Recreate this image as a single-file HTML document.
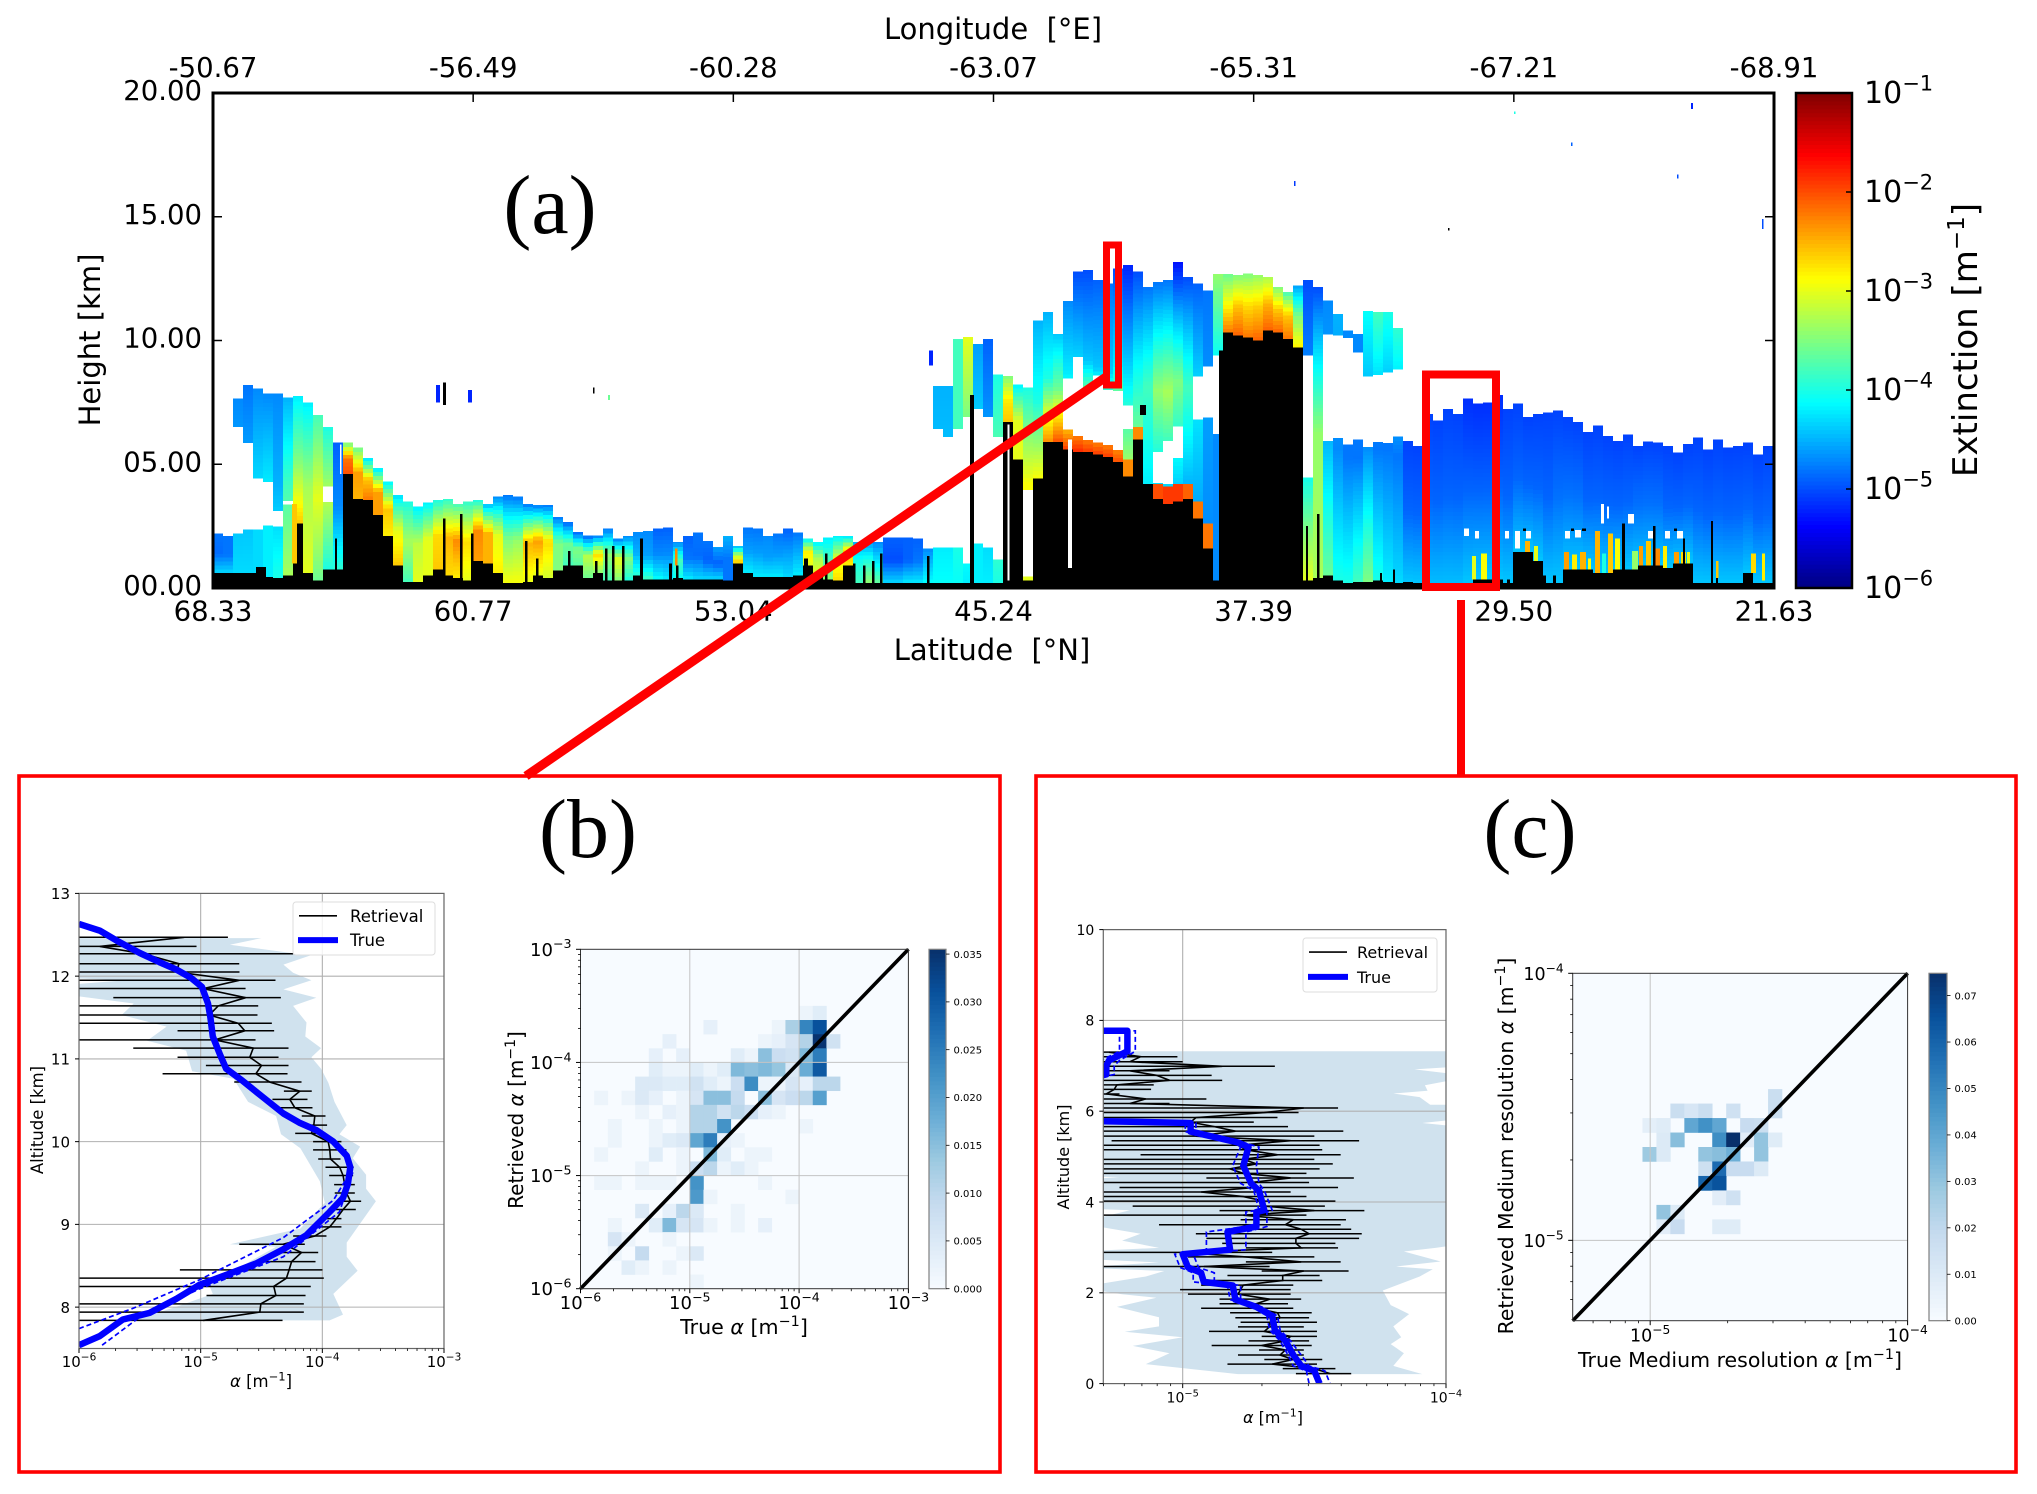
<!DOCTYPE html>
<html>
<head>
<meta charset="utf-8">
<title>Lidar extinction curtain and retrieval comparison</title>
<style>
html,body{margin:0;padding:0;background:#fff;}
svg{display:block;}
text{font-family:"DejaVu Sans","Liberation Sans",sans-serif;fill:#000;}
.serif{font-family:"Liberation Serif",serif;}
</style>
</head>
<body>
<svg id="figure" xmlns="http://www.w3.org/2000/svg" width="2037" height="1494" viewBox="0 0 2037 1494">
<defs>
<clipPath id="clip-a"><rect x="213" y="93" width="1561" height="495"/></clipPath>
<clipPath id="clip-b1"><rect x="79" y="893.4" width="365" height="455"/></clipPath>
<clipPath id="clip-c1"><rect x="1103.3" y="929.6" width="342.7" height="454"/></clipPath>
</defs>
<rect x="0" y="0" width="2037" height="1494" fill="#fff"/>

<g id="panel-a">
<g id="a-marks" clip-path="url(#clip-a)" shape-rendering="crispEdges"></g>
<g id="a-axes"></g>
<g id="a-colorbar"></g>
<text x="993" y="39" text-anchor="middle" font-size="29" xml:space="preserve">Longitude  [°E]</text>
<text x="992" y="660" text-anchor="middle" font-size="29" xml:space="preserve">Latitude  [°N]</text>
<text transform="translate(91 340) rotate(-90)" text-anchor="middle" font-size="29" x="0" y="9">Height [km]</text>
<text transform="translate(1965 340) rotate(-90)" text-anchor="middle" font-size="34" x="0" y="12">Extinction [m<tspan font-size="23" dy="-13">−1</tspan><tspan dy="13">]</tspan></text>
<text class="serif" x="550" y="233" text-anchor="middle" font-size="84">(a)</text>
</g>

<g id="panel-b">
<g id="b1-axes"></g>
<text x="261" y="1387" text-anchor="middle" font-size="16.5"><tspan font-style="italic">α</tspan> [m<tspan font-size="11.5" dy="-6.5">−1</tspan><tspan dy="6.5">]</tspan></text>
<text transform="translate(43 1120) rotate(-90)" text-anchor="middle" font-size="16.5">Altitude [km]</text>
<g id="b2-axes"></g>
<text x="744" y="1334" text-anchor="middle" font-size="20.6">True <tspan font-style="italic">α</tspan> [m<tspan font-size="14.4" dy="-8">−1</tspan><tspan dy="8">]</tspan></text>
<text transform="translate(523 1120) rotate(-90)" text-anchor="middle" font-size="20">Retrieved <tspan font-style="italic">α</tspan> [m<tspan font-size="14" dy="-8">−1</tspan><tspan dy="8">]</tspan></text>
</g>

<g id="panel-c">
<g id="c1-axes"></g>
<text x="1273" y="1423" text-anchor="middle" font-size="16"><tspan font-style="italic">α</tspan> [m<tspan font-size="11" dy="-6.5">−1</tspan><tspan dy="6.5">]</tspan></text>
<text transform="translate(1069 1157) rotate(-90)" text-anchor="middle" font-size="16">Altitude [km]</text>
<g id="c2-axes"></g>
<text x="1740" y="1367" text-anchor="middle" font-size="20.5">True Medium resolution <tspan font-style="italic">α</tspan> [m<tspan font-size="14.3" dy="-8">−1</tspan><tspan dy="8">]</tspan></text>
<text transform="translate(1513 1146) rotate(-90)" text-anchor="middle" font-size="20.4">Retrieved Medium resolution <tspan font-style="italic">α</tspan> [m<tspan font-size="14.2" dy="-8">−1</tspan><tspan dy="8">]</tspan></text>
</g>

<g id="annotations">
<rect x="19" y="776" width="981" height="696" fill="none" stroke="#f00" stroke-width="3.6"/>
<rect x="1036" y="776" width="980" height="696" fill="none" stroke="#f00" stroke-width="3.6"/>
<rect x="1106.5" y="245" width="12" height="140" fill="none" stroke="#f00" stroke-width="7"/>
<rect x="1426" y="374.5" width="70" height="212.5" fill="none" stroke="#f00" stroke-width="8"/>
<line x1="1106" y1="377" x2="526" y2="776" stroke="#f00" stroke-width="9"/>
<line x1="1461" y1="600" x2="1461" y2="776" stroke="#f00" stroke-width="8"/>
<text class="serif" x="588" y="857" text-anchor="middle" font-size="84">(b)</text>
<text class="serif" x="1530" y="857" text-anchor="middle" font-size="84">(c)</text>
</g>
</svg>

<script>
/* ---------- panel (a) tick labels ---------- */
const latitudeTicks = ["68.33","60.77","53.04","45.24","37.39","29.50","21.63"];
const longitudeTicks = ["-50.67","-56.49","-60.28","-63.07","-65.31","-67.21","-68.91"];
const heightTicks = [0,5,10,15,20];
const heightTickLabels = ["00.00","05.00","10.00","15.00","20.00"];
const extinctionExponents = [-6,-5,-4,-3,-2,-1];

/* ---------- panel (a) curtain, one value per along-track column ---------- */
const curtainTopKm = [
2.2,2.1,7.65,8.2,8.06,7.85,7.85,7.7,7.75,7.5,
7.0,6.5,5.87,5.87,5.67,5.26,4.85,4.3,3.76,3.5,
3.3,3.46,3.55,3.6,3.4,3.5,3.55,3.4,3.7,3.76,
3.7,3.4,3.35,3.35,2.87,2.67,2.26,2.12,2.12,2.4,
2.0,2.1,2.26,2.3,2.4,2.45,1.85,2.1,2.25,1.9,
1.65,2.1,1.7,2.45,2.4,2.1,2.2,2.4,2.25,2.0,
1.85,2.05,2.1,2.1,1.85,1.85,1.85,2.05,2.05,2.05,
2.0,1.6,8.16,8.16,10.06,10.15,9.85,10.06,8.63,8.56,
8.22,8.1,10.8,11.15,10.26,11.6,12.78,12.85,12.44,12.3,
12.9,13.05,12.78,12.16,12.37,12.44,13.18,12.57,12.3,12.03,
12.68,12.68,12.64,12.7,12.64,12.57,12.16,11.96,12.23,12.44,
12.16,11.62,11.08,10.4,10.26,11.2,11.15,11.15,10.5,5.94,
5.74,7.04,6.76,7.24,7.04,7.65,7.45,7.5,7.8,7.24,
7.45,6.9,7.03,7.1,7.17,6.9,6.7,6.3,6.56,6.15,
5.94,6.2,5.74,5.92,5.87,5.74,5.47,5.81,6.08,5.6,
6.0,5.67,5.74,5.87,5.4,5.74];
const curtainBlackKm = [
.6,.6,.6,.6,.6,.45,.4,.5,2.6,.6,
.3,.75,.75,4.6,3.6,3.55,2.94,2.1,.9,.25,
.25,.5,.75,.5,.4,.3,1.1,1.0,.6,.2,
.2,.25,.5,.4,.7,.9,.9,.4,.6,.3,
.3,.3,.5,.35,.35,.35,.4,.35,.35,.35,
.35,.3,1.0,.6,.45,.45,.45,.45,.5,.9,
.6,.35,.3,.9,.2,.2,.2,.2,.2,.2,
.2,.2,.2,.2,.2,.2,.2,.2,.2,6.7,
5.2,.3,4.42,5.9,5.9,5.6,5.5,5.5,5.4,5.3,
5.1,4.5,6.0,4.2,3.6,3.4,3.5,3.6,2.8,1.6,
.3,10.33,10.2,10.13,9.99,10.4,10.33,10.06,9.72,.3,
.4,.5,.3,.2,.25,.25,.3,.25,.2,.25,
.2,.2,.2,.2,.2,.2,.35,.35,.35,.2,
1.45,1.45,1.1,.2,.2,.75,.75,.75,.6,.6,
.75,.75,.9,.9,.9,.8,1.0,1.0,.2,.2,
.2,.2,.2,.6,.2,.2];
const curtainExtTop = [
-4.8,-4.8,-4.7,-4.8,-4.7,-4.7,-4.7,-4.5,-4.2,-4.2,
-3.8,-4.0,-4.9,-3.6,-3.6,-4.3,-4.3,-4.2,-4.3,-4.0,
-4.2,-4.2,-4.0,-3.9,-3.8,-3.9,-4.0,-4.5,-4.7,-4.8,
-4.8,-4.8,-4.8,-4.8,-4.8,-4.9,-4.9,-4.9,-4.8,-4.8,
-4.8,-4.7,-4.7,-4.7,-4.9,-4.9,-4.7,-4.9,-4.8,-4.8,
-4.6,-4.5,-4.5,-4.8,-4.8,-4.7,-4.8,-4.9,-4.8,-4.2,
-4.2,-4.2,-4.2,-4.3,-4.5,-4.6,-4.7,-4.9,-4.9,-4.9,
-4.9,-4.7,-4.5,-4.5,-3.8,-3.0,-4.6,-4.9,-4.0,-3.5,
-4.2,-4.0,-4.5,-4.5,-4.4,-4.7,-5.0,-5.0,-4.9,-4.8,
-5.0,-5.2,-5.0,-4.8,-4.8,-4.8,-5.3,-5.0,-4.9,-4.8,
-3.4,-3.6,-3.5,-3.5,-3.4,-3.3,-3.5,-3.8,-4.6,-5.0,
-5.0,-4.7,-4.5,-4.7,-4.7,-4.1,-3.8,-4.0,-3.9,-5.05,
-5.05,-5.05,-5.05,-5.05,-5.05,-5.15,-5.15,-5.15,-5.15,-5.05,
-5.05,-5.05,-5.05,-5.05,-5.05,-5.05,-5.05,-5.05,-5.05,-5.05,
-5.05,-5.05,-5.05,-5.05,-5.05,-5.05,-5.05,-5.05,-5.05,-5.05,
-5.05,-5.05,-5.05,-5.05,-5.05,-5.05];
const curtainExtMid = [
-4.85,-4.8,-4.5,-4.5,-4.3,-4.2,-4.5,-3.8,-3.5,-3.3,
-3.0,-3.2,-4.7,-2.2,-2.4,-2.6,-2.4,-2.6,-3.0,-3.3,
-3.2,-3.0,-2.7,-2.5,-2.3,-2.7,-2.3,-2.5,-3.0,-3.5,
-3.4,-2.5,-2.4,-2.7,-3.5,-3.6,-3.5,-3.2,-2.7,-3.4,
-3.0,-3.5,-4.5,-4.6,-4.7,-4.7,-3.8,-4.8,-4.85,-4.9,
-4.9,-4.8,-3.3,-4.6,-4.6,-4.6,-4.6,-4.6,-4.5,-2.8,
-3.3,-3.8,-3.0,-2.6,-4.0,-3.9,-4.2,-5.0,-5.0,-4.9,
-4.8,-4.4,-4.4,-4.4,-3.8,-3.8,-4.2,-4.5,-3.6,-2.8,
-3.0,-2.9,-4.0,-4.0,-3.6,-4.2,-4.3,-4.4,-4.4,-4.4,
-4.2,-4.3,-4.2,-3.8,-3.4,-3.3,-3.5,-3.8,-4.2,-4.6,
-4.7,-2.9,-2.6,-2.7,-2.6,-2.5,-2.6,-2.6,-3.5,-4.5,
-3.4,-4.5,-4.7,-4.8,-4.8,-4.7,-4.8,-4.8,-4.8,-4.88,
-4.88,-4.88,-4.88,-4.88,-4.88,-4.88,-4.88,-4.88,-4.88,-4.88,
-4.88,-4.88,-4.88,-4.88,-4.82,-4.82,-4.82,-4.88,-4.88,-4.88,
-4.88,-4.88,-4.82,-4.82,-4.82,-4.88,-4.88,-4.88,-4.88,-4.88,
-4.88,-4.88,-4.88,-4.88,-4.88,-4.88];
const curtainExtBottom = [
-4.3,-4.3,-4.3,-4.3,-4.3,-4.2,-4.0,-3.3,-2.6,-3.0,
-3.6,-4.0,-3.9,-2.0,-2.5,-2.2,-2.4,-2.8,-2.6,-3.8,
-3.0,-3.0,-2.6,-2.7,-2.8,-3.0,-2.4,-2.5,-2.8,-2.9,
-2.9,-3.0,-3.0,-3.1,-3.5,-3.8,-3.7,-3.6,-3.5,-3.8,
-3.5,-4.0,-3.9,-3.8,-4.1,-4.2,-4.1,-4.2,-4.3,-4.3,
-4.3,-4.8,-2.5,-4.2,-4.2,-4.2,-4.2,-4.3,-4.2,-3.0,
-3.0,-3.4,-2.7,-2.8,-3.8,-3.4,-3.6,-4.3,-4.3,-4.2,
-4.2,-4.1,-4.1,-4.1,-4.1,-4.2,-4.2,-4.2,-4.0,-2.6,
-3.0,-3.0,-2.9,-2.3,-2.0,-1.9,-1.8,-1.9,-1.9,-1.9,
-2.0,-3.2,-3.5,-4.2,-4.4,-4.5,-4.5,-4.6,-4.6,-4.7,
-4.7,-2.2,-2.1,-2.2,-2.1,-2.1,-2.1,-2.2,-2.8,-3.0,
-3.3,-3.6,-4.0,-4.0,-3.8,-3.5,-4.0,-4.2,-4.3,-4.4,
-4.4,-4.45,-4.45,-4.45,-4.45,-4.4,-4.4,-4.4,-4.4,-4.4,
-4.4,-4.4,-4.4,-4.4,-4.4,-4.4,-4.4,-4.4,-4.4,-4.4,
-4.4,-4.4,-4.4,-4.4,-4.4,-4.4,-4.4,-4.4,-4.4,-4.4,
-4.4,-4.4,-4.4,-4.4,-4.4,-4.4];
/* cloud-free gaps: column, gap bottom km, gap top km */
const gapColumn = [2,3,4,5,6,7,11,72,73,74,75,76,77,78,81,85,86,87,88,89,90,91,94,95,96,98,99,100,109,111,112,113,114,115,116,117,118];
const gapLowKm = [2.2,2.35,2.4,2.45,2.45,3.4,3.4,1.65,1.65,1.65,1.0,1.78,1.65,1.2,.45,6.4,6.2,5.9,5.9,5.7,5.6,6.4,4.3,4.2,5.3,6.8,6.9,6.3,4.5,5.9,6.05,5.78,6.0,5.7,5.9,5.87,6.2];
const gapHighKm = [6.5,5.87,4.44,4.24,3.2,3.6,4.1,6.46,6.1,6.46,6.87,7.27,7,6.05,3.95,8.5,9.4,8.0,8.6,8.0,7.95,7.4,5.6,6.0,6.6,8.6,9.0,9.5,9.5,10.26,10.26,10.2,9.5,8.5,8.56,8.7,8.9];
/* narrow features: [column, width in columns, base km, top km, log10 ext] (null = attenuated black, 0 = no signal white) */
const curtainFeatures = [
[4.3,1,0,.85,null],[12.2,.2,0,2.0,null],[23,.25,0,2.8,null],[24.7,.25,0,3.0,null],[25.8,.25,0,2.2,null],
[31.2,.25,0,1.9,null],[32.3,.25,0,1.2,null],[35.5,.25,0,1.5,null],[38.2,.25,0,1.1,null],[39.2,.25,0,1.6,null],
[39.9,.25,0,1.7,null],[40.9,.25,0,1.7,null],[42.7,.3,0,2.0,null],[45.6,.3,0,1.0,null],[46.3,.25,0,.9,null],
[59.1,.4,0,1.2,null],[61.2,.25,0,1.4,null],[64,.25,0,1.0,null],[65,.25,0,.9,null],[65.9,.25,0,1.1,null],
[66.7,.25,0,1.4,null],[71.4,.25,0,1.3,null],[75.7,.4,0,7.8,null],[100.6,.4,0,9.6,null],[116.7,.2,0,.6,null],
[118,.2,0,.75,null],[129.4,.3,0,.35,null],[133,.3,0,.5,null],[134,.3,0,.5,null],[149.8,.2,0,2.7,null],
[150.3,.2,0,.4,null],[109.3,.2,0,2.5,null],[110.4,.25,0,3,null],[92.7,.6,7.0,7.4,null],
[79.45,.2,.3,6.6,0],[85.5,.4,.8,6.0,0],[12.7,.15,4.6,5.8,0],[125.1,.5,2.1,2.4,0],[126.2,.4,2.0,2.3,0],
[127.9,.3,2.1,2.8,0],[129.2,.4,2.0,2.3,0],[130.2,.5,1.6,2.3,0],[131.3,.5,2.0,2.3,0],
[135.2,.5,2.0,2.3,0],[136.2,.6,2.05,2.35,0],[138.8,.3,2.6,3.4,0],[139.4,.2,2.8,3.3,0],
[141.5,.6,2.6,3.0,0],[143.5,.5,2.0,2.3,0],[145.2,.5,2.0,2.3,0],[146.4,.6,2.0,2.3,0],
[135.8,.3,2.3,2.4,null],[136.9,.4,2.3,2.4,null],[131,.3,2.3,2.4,null],[146.1,.3,2.3,2.4,null],
[7.9,.5,1.0,3.4,-2.6],[46.2,.25,.9,1.6,-2.3],[125.9,.4,.35,1.3,-3.0],[126.8,.6,.35,1.4,-2.9],[127.9,.4,.35,1.7,-2.4],
[131.2,.5,1.45,1.9,-2.5],[132.1,.4,1.1,1.7,-3],
[135.1,.5,.75,1.45,-2.4],[135.9,.5,.75,1.35,-2.8],[136.7,.6,.75,1.45,-2.5],[137.5,.3,.75,1.2,-2.9],
[138.2,.5,.6,2.3,-2.5],[138.9,.4,.6,1.4,-4],[139.5,.5,.6,2.2,-2.6],[140.2,.5,.75,2.0,-2.9],
[141.9,.6,.75,1.5,-3.4],[142.6,.4,.9,1.7,-2.4],[143.3,.5,.9,1.9,-2.6],[144.2,.5,.9,1.6,-2.3],[145,.4,.8,1.7,-2.8],
[146.1,.5,1,1.45,-2.4],[146.8,.5,1,1.45,-2.7],[147.4,.3,1,1.45,-3],
[150.3,.25,.4,1.1,-2.6],[153.8,.5,.6,1.4,-2.7],[154.9,.3,.3,1.4,-2.8],
[140.9,.3,0,2.6,null],[144,.25,0,2.5,null],[147,.2,0,2.0,null],
[91,1,4.5,5.2,-2.3],[92,1,6.0,6.5,-2.3],[94,1,3.6,4.2,-2.0],[95,1,3.4,4.1,-1.9],[96,1,3.5,4.2,-1.9],[97,1,3.6,4.2,-2.1],[98,1,2.8,3.5,-2.2],[99,1,1.6,2.6,-2.2],
[22.3,.4,7.5,8.2,-5.2],[23,.3,7.4,8.3,null],[25.5,.4,7.5,8.0,-5.2],[108.1,.15,16.25,16.45,-5.1],[147.8,.2,19.35,19.6,-5.2],
[130.1,.15,19.15,19.25,-4.0],[135.8,.12,17.85,18.0,-4.9],[146.4,.12,16.55,16.7,-5],[123.5,.12,14.45,14.55,null],
[154.9,.15,14.5,14.9,-5],[71.6,.4,9.0,9.6,-5.2],[38,.15,7.85,8.1,null],[39.5,.2,7.6,7.8,-3.6]
];

/* ---------- panel (b) profile, log10 alpha vs altitude ---------- */
const bTrueAlt = [12.63,12.55,12.43,12.28,12.17,12.08,11.98,11.87,11.67,11.5,11.27,11.05,10.88,10.74,10.54,10.34,10.23,10.14,10.0,9.83,9.69,9.49,9.32,9.15,8.87,8.70,8.53,8.39,8.27,8.10,7.93,7.85,7.65,7.54];
const bTrueLog = [-6,-5.83,-5.69,-5.5,-5.34,-5.2,-5.08,-4.99,-4.94,-4.92,-4.9,-4.84,-4.79,-4.66,-4.49,-4.32,-4.19,-4.05,-3.91,-3.8,-3.77,-3.79,-3.83,-3.94,-4.13,-4.32,-4.54,-4.79,-5.01,-5.2,-5.42,-5.64,-5.83,-6];
const bDashLowAlt = [7.74,7.99,8.33,8.84,9.29,9.63];
const bDashLowLog = [-6,-5.55,-5.01,-4.32,-3.91,-3.77];
const bDashHighAlt = [7.54,7.88,8.22,8.61,9.15,9.63];
const bDashHighLog = [-5.81,-5.5,-5.01,-4.32,-3.86,-3.75];
const bRetAlt = [12.47,12.36,12.27,12.15,12.05,11.95,11.85,11.74,11.64,11.53,11.43,11.34,11.23,11.13,11.02,10.92,10.82,10.72,10.61,10.51,10.41,10.31,10.20,10.10,10.0,9.90,9.79,9.69,9.59,9.48,9.38,9.28,9.18,9.07,8.97,8.86,8.76,8.66,8.55,8.45,8.35,8.25,8.14,8.04,7.94,7.84];
const bRetLog = [-5.135,-5.828,-5.472,-5.179,-5.198,-4.683,-4.979,-4.631,-4.856,-4.93,-4.691,-4.637,-4.883,-4.568,-4.596,-4.5,-4.546,-4.431,-4.185,-4.267,-4.226,-4.062,-4.07,-4.089,-3.952,-3.939,-3.933,-3.857,-3.829,-3.816,-3.802,-3.769,-3.829,-3.884,-3.939,-4.062,-4.322,-4.171,-4.253,-4.273,-4.295,-4.399,-4.382,-4.505,-4.514,-4.979];
const bRetLow = [-6.5,-6.5,-6.5,-6.5,-6.5,-6.5,-6.5,-5.718,-6.5,-6.5,-6.5,-5.19,-6.5,-5.554,-5.19,-4.957,-5.313,-4.724,-4.316,-4.41,-4.396,-4.169,-4.169,-4.223,-4.076,-4.076,-4.034,-3.974,-3.944,-3.903,-3.898,-3.862,-3.952,-4.007,-4.048,-4.24,-4.683,-4.349,-4.486,-5.171,-6.5,-6.5,-4.952,-6.5,-6.5,-6.5];
const bRetHigh = [-4.776,-5.034,-4.24,-4.683,-4.681,-4.385,-4.631,-4.341,-4.527,-4.533,-4.415,-4.396,-4.549,-4.278,-4.36,-4.278,-4.286,-4.171,-4.087,-4.122,-4.081,-3.974,-3.961,-3.972,-3.843,-3.802,-3.851,-3.742,-3.747,-3.733,-3.733,-3.681,-3.725,-3.843,-3.843,-3.966,-4.144,-4.034,-4.056,-3.999,-3.988,-4.095,-4.138,-4.152,-4.152,-4.327];
const bBandRightAlt = [12.46,12.38,12.25,12.14,12.04,11.95,11.84,11.74,11.64,11.44,11.27,11.13,11.02,10.88,10.71,10.48,10.20,10.09,9.94,9.80,9.60,9.43,9.28,9.01,8.78,8.61,8.44,8.16,7.91,7.84];
const bBandRightLog = [-4.5,-4.76,-4.10,-4.32,-4.24,-4.09,-4.32,-4.05,-4.24,-4.13,-4.14,-4.01,-4.09,-4.01,-3.95,-3.90,-3.80,-3.86,-3.69,-3.75,-3.64,-3.64,-3.56,-3.69,-3.80,-3.80,-3.71,-3.91,-3.83,-3.94];
const bBandLeftAlt = [12.46,12.0,11.95,11.85,11.67,11.53,11.39,11.22,11.10,10.85,10.76,10.48,10.31,10.09,9.92,9.52,9.26,8.95,8.76,8.73,8.44,8.33,8.16,8.02,7.84];
const bBandLeftLog = [-6.5,-6.5,-5.61,-6.5,-5.55,-5.65,-5.28,-5.44,-5.12,-5.07,-4.73,-4.61,-4.38,-4.34,-4.18,-4.02,-3.98,-4.18,-4.76,-4.38,-4.73,-4.95,-4.90,-5.17,-5.55];
const bAltTicks = [8,9,10,11,12,13];
const bAlphaExponents = [-6,-5,-4,-3];

/* ---------- panel (b) 2-D histogram: [row, column, density] ---------- */
const bHistExponents = [-6,-5,-4,-3];
const bColorbarTicks = [0,.005,.01,.015,.02,.025,.03,.035];
const bHistBins = [
[19,16,.002],[19,17,.004],
[18,9,.003],[18,14,.002],[18,15,.012],[18,16,.024],[18,17,.031],
[17,6,.003],[17,13,.002],[17,14,.003],[17,15,.006],[17,16,.011],[17,17,.035],[17,18,.007],
[16,5,.003],[16,7,.003],[16,11,.004],[16,12,.002],[16,13,.015],[16,14,.008],[16,15,.007],[16,16,.016],[16,17,.025],
[15,5,.004],[15,6,.002],[15,7,.002],[15,8,.004],[15,9,.002],[15,10,.004],[15,11,.016],[15,12,.015],[15,13,.016],[15,14,.014],[15,15,.005],[15,16,.018],[15,17,.03],
[14,4,.005],[14,5,.005],[14,6,.004],[14,7,.004],[14,8,.007],[14,9,.004],[14,10,.002],[14,11,.008],[14,12,.023],[14,13,.002],[14,14,.002],[14,15,.006],[14,16,.003],[14,17,.01],[14,18,.01],
[13,1,.002],[13,3,.002],[13,4,.005],[13,5,.003],[13,7,.002],[13,8,.006],[13,9,.015],[13,10,.015],[13,11,.009],[13,13,.015],[13,14,.006],[13,15,.008],[13,16,.01],[13,17,.02],
[12,4,.002],[12,6,.003],[12,7,.002],[12,8,.011],[12,9,.011],[12,10,.007],[12,11,.01],[12,12,.008],[12,13,.003],[12,14,.002],
[11,2,.002],[11,5,.002],[11,7,.002],[11,8,.011],[11,9,.011],[11,10,.022],[11,16,.002],
[10,2,.002],[10,5,.002],[10,6,.004],[10,7,.005],[10,8,.019],[10,9,.025],[10,10,.003],[10,11,.002],
[9,1,.002],[9,5,.004],[9,7,.002],[9,9,.016],[9,10,.004],[9,12,.002],[9,13,.002],
[8,4,.002],[8,7,.002],[8,8,.008],[8,9,.01],[8,10,.002],[8,11,.004],[8,12,.002],
[7,1,.002],[7,2,.002],[7,4,.002],[7,5,.002],[7,6,.002],[7,8,.022],[7,13,.002],
[6,8,.021],[6,9,.002],[6,15,.002],
[5,4,.005],[5,6,.003],[5,7,.01],[5,8,.005],[5,11,.002],
[4,2,.002],[4,5,.004],[4,6,.016],[4,7,.006],[4,8,.006],[4,9,.002],[4,11,.002],[4,13,.003],
[3,2,.006],[3,3,.002],[3,6,.002],
[2,2,.002],[2,4,.009],[2,7,.002],[2,8,.005],
[1,3,.004],[1,4,.002],[1,6,.002],
[0,8,.002]
];

/* ---------- panel (c) profile ---------- */
const cTrueAlt = [7.77,7.77,7.32,7.12,7.00,6.81,6.5,5.85,5.78,5.74,5.55,5.31,5.21,4.80,4.41,4.25,3.82,3.78,3.46,3.34,2.95,2.85,2.56,2.44,2.24,2.16,1.85,1.69,1.49,1.18,.94,.63,.39,.28,0];
const cTrueLog = [-5.4,-5.21,-5.21,-5.28,-5.29,-5.29,-5.5,-5.5,-5.30,-4.97,-4.97,-4.79,-4.75,-4.77,-4.74,-4.71,-4.69,-4.72,-4.72,-4.83,-4.82,-5.0,-4.98,-4.93,-4.92,-4.81,-4.80,-4.72,-4.66,-4.65,-4.61,-4.58,-4.55,-4.50,-4.48];
const cDashLowLog = [-5.4,-5.24,-5.24,-5.31,-5.32,-5.32,-5.5,-5.5,-5.31,-4.99,-4.99,-4.81,-4.78,-4.81,-4.78,-4.73,-4.71,-4.76,-4.76,-4.91,-4.91,-5.03,-5.01,-4.96,-4.96,-4.83,-4.82,-4.73,-4.68,-4.67,-4.63,-4.60,-4.58,-4.53,-4.52];
const cDashHighLog = [-5.4,-5.18,-5.18,-5.24,-5.26,-5.26,-5.5,-5.5,-5.28,-4.95,-4.95,-4.77,-4.71,-4.72,-4.71,-4.69,-4.66,-4.68,-4.68,-4.76,-4.76,-4.96,-4.94,-4.88,-4.88,-4.78,-4.78,-4.70,-4.64,-4.63,-4.59,-4.55,-4.52,-4.46,-4.44];
const cRetAlt = [7.30,7.20,7.09,6.99,6.89,6.79,6.68,6.58,6.48,6.38,6.27,6.17,6.07,5.97,5.86,5.76,5.66,5.56,5.45,5.35,5.25,5.15,5.04,4.94,4.84,4.73,4.63,4.53,4.43,4.32,4.22,4.12,4.02,3.91,3.81,3.71,3.61,3.50,3.40,3.30,3.20,3.09,2.99,2.89,2.79,2.68,2.58,2.48,2.38,2.27,2.17,2.07,1.97,1.86,1.76,1.66,1.56,1.45,1.35,1.25,1.15,1.04,.94,.84,.74,.63,.53,.43,.33,.22];
const cRetLog = [-5.28,-5.16,-5.2,-4.85,-5.2,-5.10,-5.05,-5.25,-5.26,-5.29,-5.14,-5.2,-4.54,-4.69,-4.95,-4.97,-4.88,-4.80,-4.95,-4.59,-4.79,-4.76,-4.64,-4.77,-4.72,-4.82,-4.77,-4.59,-4.74,-4.73,-4.93,-4.77,-4.69,-4.69,-4.50,-4.77,-4.58,-4.61,-4.55,-4.52,-4.57,-4.57,-4.55,-5.0,-4.76,-4.55,-4.92,-4.54,-4.62,-4.62,-4.77,-4.78,-4.79,-4.67,-4.72,-4.72,-4.64,-4.63,-4.67,-4.67,-4.69,-4.59,-4.61,-4.70,-4.61,-4.63,-4.58,-4.66,-4.50,-4.44];
const cRetLow = [-5.4,-5.4,-5.4,-5.4,-5.4,-5.4,-5.4,-5.4,-5.4,-5.4,-5.4,-5.4,-5.4,-5.4,-5.4,-5.4,-5.4,-5.4,-5.4,-5.27,-5.4,-5.4,-5.16,-5.4,-5.4,-5.4,-5.4,-4.91,-5.4,-5.24,-5.4,-5.4,-5.4,-5.19,-4.86,-5.4,-4.78,-5.09,-4.74,-4.95,-4.91,-4.85,-4.76,-5.4,-4.98,-4.76,-5.4,-4.70,-4.83,-4.92,-4.93,-5.01,-4.98,-4.86,-4.86,-4.93,-4.82,-4.80,-4.78,-4.79,-4.90,-4.70,-4.75,-4.89,-4.71,-4.79,-4.69,-4.83,-4.62,-4.57];
const cRetHigh = [-5.21,-5.02,-5.0,-4.65,-5.05,-4.89,-4.85,-5.11,-5.12,-5.24,-4.91,-5.05,-4.41,-4.56,-4.64,-4.73,-4.60,-4.39,-4.50,-4.33,-4.48,-4.47,-4.40,-4.50,-4.43,-4.48,-4.53,-4.35,-4.52,-4.41,-4.59,-4.53,-4.42,-4.46,-4.31,-4.53,-4.38,-4.40,-4.36,-4.32,-4.33,-4.42,-4.41,-4.66,-4.50,-4.40,-4.67,-4.37,-4.48,-4.47,-4.58,-4.59,-4.59,-4.55,-4.60,-4.58,-4.51,-4.52,-4.49,-4.54,-4.49,-4.49,-4.52,-4.51,-4.54,-4.54,-4.47,-4.49,-4.42,-4.36];
const cBandRightAlt = [7.32,7.0,6.92,6.77,6.57,6.45,6.39,6.31,6.14,6.14,5.86,5.74,5.63,3.11,2.99,2.91,2.69,2.58,2.52,2.36,2.05,1.73,1.53,1.26,1.02,.87,.67,.39,.21];
const cBandRightLog = [-3.9,-3.9,-4.12,-3.9,-4.08,-4.07,-4.20,-4.10,-4.06,-3.9,-3.9,-4.09,-3.9,-3.9,-4.04,-4.16,-4.02,-4.19,-4.05,-4.10,-4.24,-4.21,-4.14,-4.20,-4.17,-4.21,-4.16,-4.20,-4.09];
const cBandLeftAlt = [7.32,4.56,4.55,4.48,3.86,3.82,3.54,3.30,3.15,2.99,2.91,2.75,2.67,2.56,2.48,2.36,2.12,1.97,1.89,1.69,1.46,1.26,1.14,1.02,.83,.67,.43,.21];
const cBandLeftLog = [-5.4,-5.4,-5.24,-5.4,-5.4,-5.2,-5.4,-5.16,-5.23,-5.09,-5.4,-5.4,-5.09,-5.4,-5.07,-5.14,-5.4,-5.23,-5.10,-5.25,-5.09,-5.09,-5.22,-5.0,-5.19,-5.05,-5.14,-4.79];
const cAltTicks = [0,2,4,6,8,10];
const cAlphaExponents = [-5,-4];

/* ---------- panel (c) 2-D histogram: [row, column, density] ---------- */
const cHistExponents = [-5,-4];
const cColorbarTicks = [0,.01,.02,.03,.04,.05,.06,.07];
const cHistBins = [
[15,14,.017],
[14,7,.017],[14,8,.012],[14,9,.017],[14,11,.015],[14,14,.017],
[13,5,.007],[13,6,.009],[13,8,.04],[13,9,.047],[13,10,.04],[13,12,.018],[13,13,.017],
[12,6,.01],[12,7,.032],[12,10,.048],[12,11,.075],[12,12,.008],[12,13,.03],[12,14,.009],
[11,5,.028],[11,6,.01],[11,9,.03],[11,10,.032],[11,11,.037],[11,13,.03],
[10,9,.016],[10,10,.058],[10,11,.018],[10,12,.018],[10,13,.01],
[9,9,.06],[9,10,.065],
[8,10,.008],[8,11,.015],
[7,6,.03],[7,7,.01],
[6,6,.008],[6,7,.018],[6,10,.009],[6,11,.009]
];
const blueStops = ["#f7fbff","#deebf7","#c6dbef","#9ecae1","#6baed6","#4292c6","#2171b5","#08519c","#08306b"];

/* ---------- helpers ---------- */
const NS = "http://www.w3.org/2000/svg";
function mk(tag, attrs, parent){
  const el = document.createElementNS(NS, tag);
  for (const k in attrs) el.setAttribute(k, attrs[k]);
  parent.appendChild(el);
  return el;
}
function scale(d0,d1,r0,r1){ return v => r0 + (v-d0)*(r1-r0)/(d1-d0); }
function clamp01(v){ return Math.max(0, Math.min(1, v)); }
function jet(v){
  const r = clamp01(1.5-Math.abs(4*v-3)), g = clamp01(1.5-Math.abs(4*v-2)), b = clamp01(1.5-Math.abs(4*v-1));
  return "rgb("+Math.round(r*255)+","+Math.round(g*255)+","+Math.round(b*255)+")";
}
function extColor(log){ return jet((log+6)/5); }
function hexRgb(h){ return [parseInt(h.substr(1,2),16),parseInt(h.substr(3,2),16),parseInt(h.substr(5,2),16)]; }
function blues(t){
  t = clamp01(t)*(blueStops.length-1);
  const i = Math.min(blueStops.length-2, Math.floor(t)), f = t-i;
  const a = hexRgb(blueStops[i]), b = hexRgb(blueStops[i+1]);
  return "rgb("+Math.round(a[0]+(b[0]-a[0])*f)+","+Math.round(a[1]+(b[1]-a[1])*f)+","+Math.round(a[2]+(b[2]-a[2])*f)+")";
}
function powerLabel(parent, x, y, anchor, exp, size, name){
  const t = mk("text", {x:x, y:y, "text-anchor":anchor, "font-size":size}, parent);
  
  
  t.appendChild(document.createTextNode("10"));
  const s = mk("tspan", {"font-size":size*0.7, dy:-size*0.42}, t);
  s.textContent = "\u2212"+Math.abs(exp);
  return t;
}
function plainLabel(parent, x, y, anchor, str, size, name){
  const t = mk("text", {x:x, y:y, "text-anchor":anchor, "font-size":size}, parent);
  
  
  t.textContent = str;
  return t;
}
function tickLine(parent, x1, y1, x2, y2, color, w, name){
  const l = mk("line", {x1:x1, y1:y1, x2:x2, y2:y2, stroke:color, "stroke-width":w}, parent);
  
  
  return l;
}
function pathFrom(xs, ys){
  return xs.map((x,i)=>(i?"L":"M")+x.toFixed(1)+" "+ys[i].toFixed(1)).join(" ");
}

/* ---------- panel (a) ---------- */
(function(){
  const xCol = scale(0,156.1,213,1774);
  const yKm = scale(0,20,588,93);
  const marks = document.getElementById("a-marks");
  const axes = document.getElementById("a-axes");
  const stepKm = 0.16;
  curtainTopKm.forEach((top,i)=>{
    const black = curtainBlackKm[i];
    const mid = (top+black)/2;
    const g = gapColumn.indexOf(i);
    const x0 = xCol(i), w = xCol(i+1)-x0;
    for (let km = black; km < top; km += stepKm){
      const hi = Math.min(km+stepKm, top), centre = (km+hi)/2;
      if (g >= 0 && centre > gapLowKm[g] && centre < gapHighKm[g]) continue;
      const log = centre >= mid
        ? curtainExtMid[i] + (curtainExtTop[i]-curtainExtMid[i])*(centre-mid)/(top-mid)
        : curtainExtBottom[i] + (curtainExtMid[i]-curtainExtBottom[i])*(centre-black)/(mid-black);
      const cell = mk("rect", {x:x0, y:yKm(hi), width:w, height:yKm(km)-yKm(hi)+0.4, fill:extColor(log)}, marks);
      
      
    }
    const bar = mk("rect", {x:x0, y:yKm(black), width:w, height:yKm(0)-yKm(black), fill:"#000"}, marks);
    
    
  });
  curtainFeatures.forEach(f=>{
    const fill = f[4]===null ? "#000" : (f[4]===0 ? "#fff" : extColor(f[4]));
    const r = mk("rect", {x:xCol(f[0]), y:yKm(f[3]), width:Math.max(1.5,xCol(f[1])-xCol(0)), height:Math.max(1.5,yKm(f[2])-yKm(f[3])), fill:fill}, marks);
    
    
  });
  const surface = mk("rect", {x:213, y:yKm(0.2), width:1561, height:yKm(0)-yKm(0.2), fill:"#000"}, marks);
  
  

  const frame = mk("rect", {x:213, y:93, width:1561, height:495, fill:"none", stroke:"#000", "stroke-width":3}, axes);
  
  
  const xTick = scale(0,latitudeTicks.length-1,213,1774);
  latitudeTicks.forEach((s,i)=>{
    plainLabel(axes, xTick(i), 620.5, "middle", s, 27.5, "latitude-tick-label");
    plainLabel(axes, xTick(i), 77, "middle", longitudeTicks[i], 27.5, "longitude-tick-label");
    tickLine(axes, xTick(i), 93, xTick(i), 102, "#000", 1.5, "longitude-tick");
  });
  heightTicks.forEach((h,i)=>{
    plainLabel(axes, 202, yKm(h)+7, "end", heightTickLabels[i], 27.5, "height-tick-label");
    tickLine(axes, 213, yKm(h), 222, yKm(h), "#000", 1.5, "height-tick-left");
    tickLine(axes, 1765, yKm(h), 1774, yKm(h), "#000", 1.5, "height-tick-right");
  });

  const cb = document.getElementById("a-colorbar");
  const yExt = scale(-6,-1,588,93);
  for (let k = 0; k < 125; k++){
    const lo = -6 + k*0.04;
    const r = mk("rect", {x:1796, y:yExt(lo+0.04), width:56, height:yExt(lo)-yExt(lo+0.04)+0.5, fill:extColor(lo+0.02)}, cb);
    
    
  }
  const cbFrame = mk("rect", {x:1796, y:93, width:56, height:495, fill:"none", stroke:"#000", "stroke-width":2.5}, cb);
  
  
  extinctionExponents.forEach(e=>{
    tickLine(cb, 1846, yExt(e), 1852, yExt(e), "#000", 1.5, "colorbar-tick");
    powerLabel(cb, 1864, yExt(e)+10, "start", e, 30, "colorbar-tick-label");
  });
})();

/* ---------- profile panels ---------- */
function drawProfile(cfg){
  const g = document.getElementById(cfg.group);
  const x = scale(cfg.logMin, cfg.logMax, cfg.left, cfg.right);
  const y = scale(cfg.altMin, cfg.altMax, cfg.bottom, cfg.top);
  const frameBg = mk("rect", {x:cfg.left, y:cfg.top, width:cfg.right-cfg.left, height:cfg.bottom-cfg.top, fill:"#fff"}, g);
  
  
  const plot = mk("g", {"clip-path":"url(#"+cfg.clip+")"}, g);
  
  

  const bandX = cfg.bandRightLog.map(x).concat(cfg.bandLeftLog.map(x).reverse());
  const bandY = cfg.bandRightAlt.map(y).concat(cfg.bandLeftAlt.map(y).reverse());
  const band = mk("path", {d:pathFrom(bandX,bandY)+" Z", fill:"#d0e2ee"}, plot);
  
  

  cfg.altTicks.forEach(a=>{ tickLine(plot, cfg.left, y(a), cfg.right, y(a), "#b0b0b0", 1.1, "altitude-gridline"); });
  cfg.exponents.forEach(e=>{ tickLine(plot, x(e), cfg.top, x(e), cfg.bottom, "#b0b0b0", 1.1, "alpha-gridline"); });

  cfg.retLog.forEach((v,i)=>{
    tickLine(plot, x(cfg.retLow[i]), y(cfg.retAlt[i]), x(cfg.retHigh[i]), y(cfg.retAlt[i]), "#000", 1.5, "retrieval-error-bar");
  });
  const ret = mk("path", {d:pathFrom(cfg.retLog.map(x), cfg.retAlt.map(y)), fill:"none", stroke:"#000", "stroke-width":1.6}, plot);
  
  

  const dl = mk("path", {d:pathFrom(cfg.dashLowLog.map(x), cfg.dashLowAlt.map(y)), fill:"none", stroke:"#00f", "stroke-width":1.7, "stroke-dasharray":"5 3"}, plot);
  
  
  const dh = mk("path", {d:pathFrom(cfg.dashHighLog.map(x), cfg.dashHighAlt.map(y)), fill:"none", stroke:"#00f", "stroke-width":1.7, "stroke-dasharray":"5 3"}, plot);
  
  
  const tr = mk("path", {d:pathFrom(cfg.trueLog.map(x), cfg.trueAlt.map(y)), fill:"none", stroke:"#00f", "stroke-width":6.5, "stroke-linejoin":"round"}, plot);
  
  

  const frame = mk("rect", {x:cfg.left, y:cfg.top, width:cfg.right-cfg.left, height:cfg.bottom-cfg.top, fill:"none", stroke:"#666", "stroke-width":1.2}, g);
  
  

  cfg.altTicks.forEach(a=>{
    tickLine(g, cfg.left-4, y(a), cfg.left, y(a), "#000", 1, "altitude-tick");
    plainLabel(g, cfg.left-9, y(a)+cfg.tickSize*0.38, "end", String(a), cfg.tickSize, "altitude-tick-label");
  });
  for (let d = Math.floor(cfg.logMin); d < cfg.logMax; d++){
    for (let m = 2; m < 10; m++){
      const lg = d + Math.log10(m);
      if (lg >= cfg.logMin && lg <= cfg.logMax) tickLine(g, x(lg), cfg.bottom, x(lg), cfg.bottom+2.5, "#000", .8, "alpha-minor-tick");
    }
  }
  cfg.exponents.forEach(e=>{
    tickLine(g, x(e), cfg.bottom, x(e), cfg.bottom+4.5, "#000", 1, "alpha-tick");
    powerLabel(g, x(e), cfg.xLabelY, "middle", e, cfg.tickSize, "alpha-tick-label");
  });

  const lb = cfg.legend;
  const box = mk("rect", {x:lb.x, y:lb.y, width:lb.w, height:lb.h, rx:3, fill:"#fff", "fill-opacity":.85, stroke:"#ddd", "stroke-width":1}, g);
  
  
  const row1 = lb.y + lb.h*0.26, row2 = lb.y + lb.h*0.72;
  tickLine(g, lb.x+6, row1, lb.x+44, row1, "#000", 1.6, "legend-retrieval-swatch");
  tickLine(g, lb.x+5, row2, lb.x+45, row2, "#00f", 6, "legend-true-swatch");
  plainLabel(g, lb.x+lb.tx, row1+6, "start", "Retrieval", lb.size, "legend-retrieval-label");
  plainLabel(g, lb.x+lb.tx, row2+6, "start", "True", lb.size, "legend-true-label");
}
drawProfile({group:"b1-axes", clip:"clip-b1", logMin:-6, logMax:-3, altMin:7.5, altMax:13,
  left:79, right:444, top:893.4, bottom:1348.5, tickSize:15, xLabelY:1367,
  trueLog:bTrueLog, trueAlt:bTrueAlt, dashLowLog:bDashLowLog, dashLowAlt:bDashLowAlt, dashHighLog:bDashHighLog, dashHighAlt:bDashHighAlt,
  retLog:bRetLog, retAlt:bRetAlt, retLow:bRetLow, retHigh:bRetHigh,
  bandRightLog:bBandRightLog, bandRightAlt:bBandRightAlt, bandLeftLog:bBandLeftLog, bandLeftAlt:bBandLeftAlt,
  altTicks:bAltTicks, exponents:bAlphaExponents,
  legend:{x:293, y:902, w:142, h:53, tx:57, size:16.5}});
drawProfile({group:"c1-axes", clip:"clip-c1", logMin:-5.3015, logMax:-4, altMin:0, altMax:10,
  left:1103.3, right:1446, top:929.6, bottom:1383.6, tickSize:14, xLabelY:1402.5,
  trueLog:cTrueLog, trueAlt:cTrueAlt, dashLowLog:cDashLowLog, dashLowAlt:cTrueAlt, dashHighLog:cDashHighLog, dashHighAlt:cTrueAlt,
  retLog:cRetLog, retAlt:cRetAlt, retLow:cRetLow, retHigh:cRetHigh,
  bandRightLog:cBandRightLog, bandRightAlt:cBandRightAlt, bandLeftLog:cBandLeftLog, bandLeftAlt:cBandLeftAlt,
  altTicks:cAltTicks, exponents:cAlphaExponents,
  legend:{x:1303, y:938, w:134, h:54, tx:54, size:16}});

/* ---------- 2-D histogram panels ---------- */
function drawHist(cfg){
  const g = document.getElementById(cfg.group);
  const x = scale(cfg.logMin, cfg.logMax, cfg.left, cfg.right);
  const y = scale(cfg.logMin, cfg.logMax, cfg.bottom, cfg.top);
  const cw = (cfg.right-cfg.left)/24, ch = (cfg.bottom-cfg.top)/24;
  const bg = mk("rect", {x:cfg.left, y:cfg.top, width:cfg.right-cfg.left, height:cfg.bottom-cfg.top, fill:blueStops[0]}, g);
  
  
  cfg.bins.forEach(b=>{
    const c = mk("rect", {x:cfg.left+b[1]*cw, y:cfg.bottom-(b[0]+1)*ch, width:cw+.3, height:ch+.3, fill:blues(b[2]/cfg.vmax)}, g);
    
    
  });
  cfg.exponents.forEach(e=>{
    if (e > cfg.logMin && e < cfg.logMax){
      tickLine(g, x(e), cfg.top, x(e), cfg.bottom, "#c4c4c4", 1, "x-gridline");
      tickLine(g, cfg.left, y(e), cfg.right, y(e), "#c4c4c4", 1, "y-gridline");
    }
  });
  const diag = mk("line", {x1:cfg.left, y1:cfg.bottom, x2:cfg.right, y2:cfg.top, stroke:"#000", "stroke-width":3.6}, g);
  
  
  const fr = mk("rect", {x:cfg.left, y:cfg.top, width:cfg.right-cfg.left, height:cfg.bottom-cfg.top, fill:"none", stroke:"#333", "stroke-width":1}, g);
  
  
  for (let d = Math.floor(cfg.logMin); d < cfg.logMax; d++){
    for (let m = 2; m < 10; m++){
      const lg = d + Math.log10(m);
      if (lg >= cfg.logMin && lg <= cfg.logMax){
        tickLine(g, x(lg), cfg.bottom, x(lg), cfg.bottom+2.5, "#000", .8, "x-minor-tick");
        tickLine(g, cfg.left-2.5, y(lg), cfg.left, y(lg), "#000", .8, "y-minor-tick");
      }
    }
  }
  cfg.exponents.forEach(e=>{
    tickLine(g, x(e), cfg.bottom, x(e), cfg.bottom+4.5, "#000", 1, "x-tick");
    tickLine(g, cfg.left-4.5, y(e), cfg.left, y(e), "#000", 1, "y-tick");
    powerLabel(g, x(e), cfg.xLabelY, "middle", e, cfg.tickSize, "x-tick-label");
    powerLabel(g, cfg.left-9, y(e)+6.5, "end", e, cfg.tickSize, "y-tick-label");
  });
  const vy = scale(0, cfg.vmax, cfg.bottom, cfg.top);
  for (let k = 0; k < 80; k++){
    const v0 = cfg.vmax*k/80, v1 = cfg.vmax*(k+1)/80;
    const s = mk("rect", {x:cfg.cbLeft, y:vy(v1), width:cfg.cbWidth, height:vy(v0)-vy(v1)+.4, fill:blues((v0+v1)/2/cfg.vmax)}, g);
    
    
  }
  const cf = mk("rect", {x:cfg.cbLeft, y:cfg.top, width:cfg.cbWidth, height:cfg.bottom-cfg.top, fill:"none", stroke:"#808080", "stroke-width":1.2}, g);
  
  
  cfg.cbTicks.forEach(v=>{
    tickLine(g, cfg.cbLeft+cfg.cbWidth, vy(v), cfg.cbLeft+cfg.cbWidth+3.5, vy(v), "#000", .8, "colorbar-tick");
    plainLabel(g, cfg.cbLeft+cfg.cbWidth+7.5, vy(v)+3.7, "start", v.toFixed(cfg.cbDigits), 10, "colorbar-tick-label");
  });
}
drawHist({group:"b2-axes", bins:bHistBins, logMin:-6, logMax:-3, left:580.5, right:908.4, top:949.3, bottom:1288.7,
  vmax:.0355, exponents:bHistExponents, tickSize:18, xLabelY:1309, cbLeft:929, cbWidth:17, cbTicks:bColorbarTicks, cbDigits:3});
drawHist({group:"c2-axes", bins:cHistBins, logMin:-5.301, logMax:-4, left:1572.7, right:1907.6, top:973.3, bottom:1320.7,
  vmax:.0748, exponents:cHistExponents, tickSize:17.5, xLabelY:1341.5, cbLeft:1929, cbWidth:18, cbTicks:cColorbarTicks, cbDigits:2});
</script>
</body>
</html>
